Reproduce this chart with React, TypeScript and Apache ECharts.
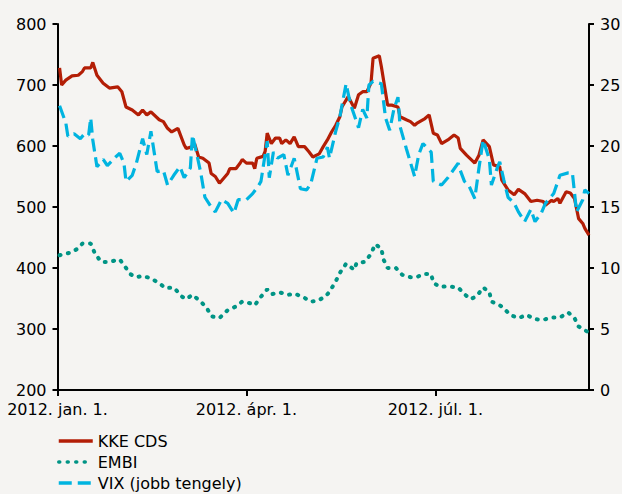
import React, { useEffect, useRef } from "react";
import * as echarts from "echarts";

// Days counted from 2012-01-01
const xTickDays = [0, 91, 182];
const xTickLabels = ["2012. jan. 1.", "2012. ápr. 1.", "2012. júl. 1."];
const xMaxDay = 256;

const seriesNames = ["KKE CDS", "EMBI", "VIX (jobb tengely)"];

// KKE CDS (left axis), [day, value]
const kkeCds: [number, number][] = [
  [1, 728], [2, 700], [4, 708], [7, 715], [10, 716], [12, 722], [13, 728], [16, 728], [17, 737],
  [19, 716], [22, 703], [25, 695], [29, 697], [31, 689], [33, 664], [36, 659], [39, 651], [41, 659],
  [43, 651], [45, 656], [49, 643], [51, 640], [53, 629], [55, 623], [58, 629], [61, 602], [62, 596],
  [65, 599], [66, 604], [68, 582], [70, 580], [73, 572], [74, 555], [76, 550], [78, 539], [82, 555],
  [83, 563], [86, 563], [88, 572], [89, 578], [91, 572], [94, 572], [95, 563], [96, 580], [99, 583],
  [100, 591], [101, 621], [103, 604], [105, 613], [107, 613], [108, 604], [110, 610], [112, 604],
  [114, 615], [116, 599], [119, 599], [121, 591], [123, 582], [126, 587], [128, 599], [130, 610],
  [132, 623], [134, 634], [136, 648], [137, 664], [140, 681], [143, 662], [145, 684], [147, 689],
  [149, 689], [151, 703], [152, 744], [155, 748], [156, 730], [159, 667], [161, 667], [164, 664],
  [165, 648], [168, 643], [170, 640], [172, 634], [173, 637], [177, 645], [179, 651], [181, 621],
  [183, 618], [185, 604], [188, 610], [191, 618], [193, 613], [194, 596], [197, 585], [201, 572],
  [203, 585], [205, 610], [208, 599], [210, 569], [213, 566], [214, 544], [217, 528], [220, 520],
  [222, 529], [225, 522], [228, 509], [231, 511], [234, 509], [235, 503], [238, 511], [239, 509],
  [241, 514], [242, 506], [245, 525], [247, 523], [249, 514], [251, 481], [253, 473], [254, 465],
  [256, 454],
];

// EMBI (left axis), [day, value]
const embi: [number, number][] = [
  [1, 421], [6, 425], [10, 432], [12, 440], [16, 440], [18, 424], [21, 410], [25, 410], [30, 414],
  [33, 400], [35, 390], [38, 385], [41, 387], [45, 383], [49, 375], [52, 367], [56, 368], [60, 353],
  [62, 349], [65, 356], [69, 345], [72, 334], [74, 321], [78, 318], [82, 331], [86, 337], [89, 345],
  [93, 342], [95, 339], [98, 353], [101, 365], [103, 357], [107, 360], [111, 356], [114, 358],
  [118, 353], [122, 345], [125, 346], [129, 353], [131, 361], [134, 378], [136, 392], [139, 407],
  [143, 397], [144, 408], [148, 410], [151, 423], [153, 439], [156, 432], [157, 414], [159, 400],
  [163, 400], [166, 389], [170, 385], [173, 385], [176, 390], [180, 390], [181, 376], [184, 369],
  [188, 370], [193, 368], [196, 357], [199, 349], [202, 354], [205, 368], [208, 361], [209, 345],
  [213, 339], [215, 334], [218, 323], [222, 318], [226, 323], [230, 316], [234, 315], [238, 319],
  [242, 319], [246, 327], [249, 318], [251, 304], [256, 294],
];

// VIX (right axis), [day, value]
const vix: [number, number][] = [
  [1, 23.3], [4, 21.9], [5, 20.8], [8, 21.0], [11, 20.6], [13, 21.0], [15, 20.9], [16, 22.3],
  [17, 20.5], [19, 18.3], [22, 18.9], [24, 18.4], [28, 19.1], [30, 19.4], [32, 18.6], [33, 17.1],
  [36, 17.6], [38, 18.6], [41, 20.6], [43, 19.3], [45, 21.2], [48, 17.9], [51, 18.0], [53, 16.8],
  [56, 17.6], [59, 18.3], [61, 17.4], [64, 18.2], [65, 20.9], [67, 19.4], [69, 17.8], [71, 15.8],
  [74, 15.0], [76, 14.6], [79, 15.6], [82, 15.3], [85, 14.5], [87, 15.6], [91, 15.6], [94, 16.1],
  [97, 16.8], [98, 17.1], [101, 20.4], [102, 17.4], [104, 19.5], [106, 19.0], [109, 19.3],
  [111, 17.6], [114, 19.0], [117, 16.5], [120, 16.4], [122, 16.9], [125, 19.0], [128, 19.1],
  [130, 19.9], [131, 19.0], [134, 21.2], [136, 22.4], [139, 25.1], [141, 23.5], [143, 22.5],
  [145, 21.5], [147, 23.0], [149, 22.3], [150, 25.0], [152, 25.3], [156, 25.1], [158, 22.3],
  [160, 21.3], [162, 23.0], [164, 24.0], [165, 21.6], [168, 19.8], [172, 17.5], [174, 19.3],
  [176, 20.2], [180, 19.5], [181, 17.1], [185, 16.8], [188, 17.4], [193, 18.6], [194, 18.0],
  [196, 17.1], [198, 16.8], [201, 15.7], [203, 18.2], [205, 20.5], [208, 18.9], [209, 16.8],
  [212, 18.3], [213, 18.7], [215, 17.2], [217, 15.8], [220, 15.3], [222, 14.6], [225, 13.8],
  [228, 14.8], [230, 13.8], [233, 14.5], [235, 15.3], [239, 16.1], [242, 17.6], [246, 17.8],
  [248, 17.8], [250, 14.6], [253, 15.6], [254, 16.4], [256, 16.1],
];

const FONT = "DejaVu Sans";

export default function App() {
  const ref = useRef<HTMLDivElement>(null);

  useEffect(() => {
    if (!ref.current) return;
    const chart = echarts.init(ref.current, null, { renderer: "svg" });
    const axisText = { color: "#000", fontFamily: FONT, fontSize: 16 };
    const axisLine = { show: true, onZero: false, lineStyle: { color: "#000", width: 2 } };
    chart.setOption({
      animation: false,
      backgroundColor: "#F5F4F2",
      grid: { left: 57.5, right: 33, top: 24, bottom: 104, containLabel: false, outerBoundsMode: "none" },
      legend: {
        orient: "vertical",
        left: 57,
        top: 433,
        padding: 0,
        itemWidth: 34,
        itemHeight: 14,
        itemGap: 5,
        itemStyle: { opacity: 0, borderWidth: 0 },
        lineStyle: { width: 3.5 },
        textStyle: { ...axisText },
        data: seriesNames,
      },
      xAxis: {
        type: "value",
        min: 0,
        max: xMaxDay,
        axisLine,
        splitLine: { show: false },
        axisTick: {
          show: true,
          length: 6,
          inside: false,
          customValues: xTickDays,
          lineStyle: { color: "#000", width: 2 },
        },
        axisLabel: {
          ...axisText,
          margin: 11,
          customValues: xTickDays,
          formatter: (v: number) => {
            const i = xTickDays.indexOf(Math.round(v));
            return i >= 0 ? xTickLabels[i] : "";
          },
        },
      },
      yAxis: [
        {
          type: "value",
          min: 200,
          max: 800,
          interval: 100,
          position: "left",
          axisLine,
          splitLine: { show: false },
          axisTick: { show: true, length: 5, lineStyle: { color: "#000", width: 2 } },
          axisLabel: { ...axisText, margin: 11 },
        },
        {
          type: "value",
          min: 0,
          max: 30,
          interval: 5,
          position: "right",
          axisLine,
          splitLine: { show: false },
          axisTick: { show: true, length: 5, lineStyle: { color: "#000", width: 2 } },
          axisLabel: { ...axisText, margin: 11 },
        },
      ],
      series: [
        {
          name: seriesNames[0],
          type: "line",
          yAxisIndex: 0,
          symbol: "none",
          data: kkeCds,
          color: "#B31E06",
          lineStyle: { color: "#B31E06", width: 3.2 },
        },
        {
          name: seriesNames[1],
          type: "line",
          yAxisIndex: 0,
          symbol: "none",
          data: embi,
          color: "#009485",
          lineStyle: { color: "#009485", width: 4, type: [1, 7.5], cap: "round" },
        },
        {
          name: seriesNames[2],
          type: "line",
          yAxisIndex: 1,
          symbol: "none",
          data: vix,
          color: "#00B4E0",
          lineStyle: { color: "#00B4E0", width: 3.2, type: [13, 6] },
        },
      ],
    });
    return () => chart.dispose();
  }, []);

  return (
    <div
      ref={ref}
      style={{ position: "absolute", left: 0, top: 0, width: 622, height: 494 }}
    />
  );
}
